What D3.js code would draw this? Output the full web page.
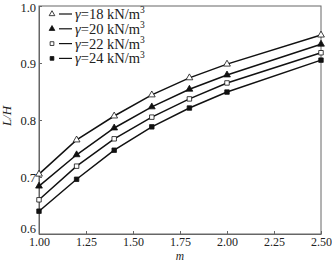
<!DOCTYPE html>
<html>
<head>
<meta charset="utf-8">
<script src="https://cdn.jsdelivr.net/npm/d3@7"></script>
<style>
  body { margin: 0; background: #fff; }
  svg text { font-family: "Liberation Serif", "Times New Roman", serif; fill: #222; }
</style>
</head>
<body>
<div id="chart"></div>
<script>
let mValues = [1.0, 1.2, 1.4, 1.6, 1.8, 2.0, 2.5];
let gamma18 = [0.705, 0.765, 0.807, 0.844, 0.874, 0.898, 0.949];
let gamma20 = [0.684, 0.739, 0.786, 0.823, 0.854, 0.879, 0.933];
let gamma22 = [0.660, 0.719, 0.767, 0.805, 0.837, 0.865, 0.918];
let gamma24 = [0.640, 0.696, 0.747, 0.788, 0.821, 0.849, 0.905];
let seriesNames = ["18", "20", "22", "24"];
let xTicks = [1.0, 1.25, 1.5, 1.75, 2.0, 2.25, 2.5];
let yTicks = [0.6, 0.7, 0.8, 0.9, 1.0];

let margin = {top: 6, right: 11, bottom: 28, left: 39};
let width = 332 - margin.left - margin.right;
let height = 262 - margin.top - margin.bottom;

let svg = d3.select('#chart')
    .append('svg')
    .attr("width", 332)
    .attr("height", 262)
    .append('g')
    .attr("transform", "translate(" + margin.left + "," + margin.top + ")");

let x = d3.scaleLinear().domain([1.0, 2.5]).range([0, width]);
let y = d3.scaleLinear().domain([0.6, 1.0]).range([height, 0]);

// frame
svg.append('rect')
    .attr('width', width)
    .attr('height', height)
    .attr('fill', 'none')
    .attr('stroke', '#666')
    .attr('stroke-width', 1);

let xAxis = svg.append('g')
    .attr("transform", "translate(0," + height + ")")
    .call(d3.axisBottom(x).tickValues(xTicks).tickSizeInner(-3).tickSizeOuter(0)
        .tickFormat(d3.format(".2f")));
xAxis.select('.domain').attr('stroke', '#666');
xAxis.selectAll('.tick line').attr('stroke', '#666');
xAxis.selectAll('.tick text').attr('font-size', 12).attr('dy', '0.85em').attr('y', 1.5);

let yAxis = svg.append('g')
    .call(d3.axisLeft(y).tickValues(yTicks).tickSizeInner(-3).tickSizeOuter(0)
        .tickFormat(d3.format(".1f")));
yAxis.select('.domain').attr('stroke', '#666');
yAxis.selectAll('.tick line').attr('stroke', '#666');
yAxis.selectAll('.tick text').attr('font-size', 12.5).attr('x', -3)
    .attr('dy', function (d) { return d === 1.0 ? '0.45em' : (d === 0.6 ? '-0.12em' : '0.32em'); });

// axis titles
svg.append('text')
    .attr('x', width / 2)
    .attr('y', height + 25.5)
    .attr('text-anchor', 'middle')
    .attr('font-size', 11.5)
    .attr('font-style', 'italic')
    .text('m');

svg.append('text')
    .attr('transform', 'rotate(-90)')
    .attr('x', -(height / 2) + 4)
    .attr('y', -28)
    .attr('text-anchor', 'middle')
    .attr('font-size', 13)
    .attr('font-style', 'italic')
    .text('L/H');

let series = [gamma18, gamma20, gamma22, gamma24];
let markers = [
    {type: d3.symbolTriangle, fill: '#fff'},
    {type: d3.symbolTriangle, fill: '#111'},
    {type: d3.symbolSquare, fill: '#fff'},
    {type: d3.symbolSquare, fill: '#111'}
];

let line = d3.line()
    .x(function (d, i) { return x(mValues[i]); })
    .y(function (d) { return y(d); });

series.forEach(function (vals, s) {
    svg.append('path')
        .datum(vals)
        .attr('d', line)
        .attr('fill', 'none')
        .attr('stroke', '#111')
        .attr('stroke-width', 1.5);

    svg.selectAll('.pt' + s)
        .data(vals)
        .enter()
        .append('path')
        .attr('class', 'pt' + s)
        .attr('d', d3.symbol().type(markers[s].type).size(20))
        .attr('transform', function (d, i) {
            return "translate(" + x(mValues[i]) + "," + y(d) + ")";
        })
        .attr('fill', markers[s].fill)
        .attr('stroke', '#111')
        .attr('stroke-width', 0.8);
});

// legend
let legend = svg.append('g').attr('transform', 'translate(13,8)');
seriesNames.forEach(function (name, s) {
    let row = legend.append('g').attr('transform', 'translate(0,' + (s * 14.8) + ')');
    row.append('path')
        .attr('d', d3.symbol().type(markers[s].type).size(14))
        .attr('fill', markers[s].fill)
        .attr('stroke', '#111')
        .attr('stroke-width', 0.8);
    row.append('line')
        .attr('x1', 7).attr('x2', 20)
        .attr('stroke', '#111').attr('stroke-width', 1.2);
    let t = row.append('text')
        .attr('x', 23)
        .attr('dy', '0.35em')
        .attr('font-size', 14.5);
    t.append('tspan').attr('font-style', 'italic').text('γ');
    t.append('tspan').text('=' + name + ' kN/m');
    t.append('tspan').attr('font-size', 9.5).attr('dy', '-0.6em').text('3');
});
</script>
</body>
</html>
